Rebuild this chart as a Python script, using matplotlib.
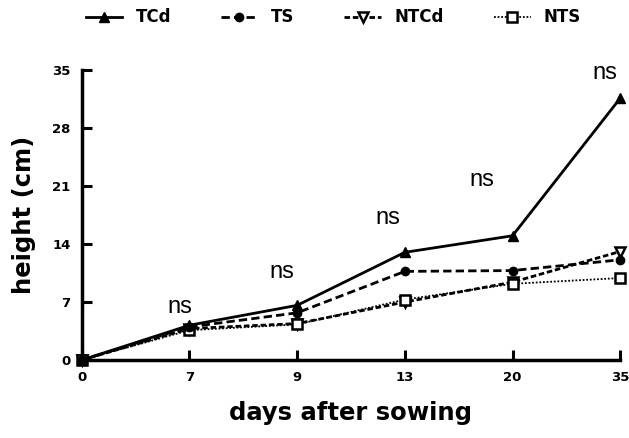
import matplotlib
matplotlib.use("Agg")
from matplotlib import pyplot as plt
import numpy as np

days = ["0", "7", "9", "13", "20", "35"]
tcd = [0, 4.2, 6.6, 13.0, 15.0, 31.6]
ts = [0, 4.0, 5.7, 10.7, 10.8, 12.1]
ntcd = [0, 3.8, 4.4, 7.0, 9.4, 13.1]
nts = [0, 3.6, 4.3, 7.3, 9.2, 9.9]
ns_y = [6.4, 10.6, 17.2, 21.7, 34.6]
ns_x = [0.91, 1.86, 2.84, 3.72, 4.86]

plt.rcParams['font.family'] = ['DejaVu Sans']

fig = plt.figure(figsize=(6.29, 4.38), dpi=100)
ax = fig.add_axes([0.130, 0.178, 0.856, 0.662])
x = np.arange(len(days))

ax.plot(x, tcd, color="black", lw=2, ls="-", marker="^", ms=7,
        clip_on=False, label="TCd", zorder=5)
ax.plot(x, ts, color="black", lw=2, ls=(0, (3, 1.5)), marker="o", ms=6,
        clip_on=False, label="TS", zorder=5)
ax.plot(x, ntcd, color="black", lw=2, ls=(0, (2, 1)), marker="v", ms=7,
        mfc="white", mew=1.8, clip_on=False, label="NTCd", zorder=4)
ax.plot(x, nts, color="black", lw=1.3, ls=(0, (1, 1)), marker="s", ms=6.5,
        mfc="white", mew=1.8, clip_on=False, label="NTS", zorder=4)

# significance labels
for xi, yi in zip(ns_x, ns_y):
    ax.text(xi, yi, "ns", fontsize=17, ha="center", va="center",
            family="Liberation Sans")

ax.set_xlim(0, 5)
ax.set_ylim(0, 35)
ax.set_xticks(x)
ax.set_xticklabels(days)
ax.set_yticks([0, 7, 14, 21, 28, 35])
for s in ["top", "right"]:
    ax.spines[s].set_visible(False)
for s in ["left", "bottom"]:
    ax.spines[s].set_linewidth(2.5)
ax.tick_params(direction="in", length=7, width=2.2, labelsize=9.5, pad=8)
for lab in ax.get_xticklabels() + ax.get_yticklabels():
    lab.set_fontweight("bold")

ax.set_xlabel("days after sowing", fontsize=17.5, fontweight="bold", labelpad=12)
ax.set_ylabel("height (cm)", fontsize=17.5, fontweight="bold", labelpad=12)

fig.legend(loc="upper center", bbox_to_anchor=(0.53, 1.015), ncol=4,
           frameon=False, prop={"weight": "bold", "size": 12},
           handlelength=2.2, columnspacing=3.0, handletextpad=0.8)

fig.savefig("out.png", dpi=100)
